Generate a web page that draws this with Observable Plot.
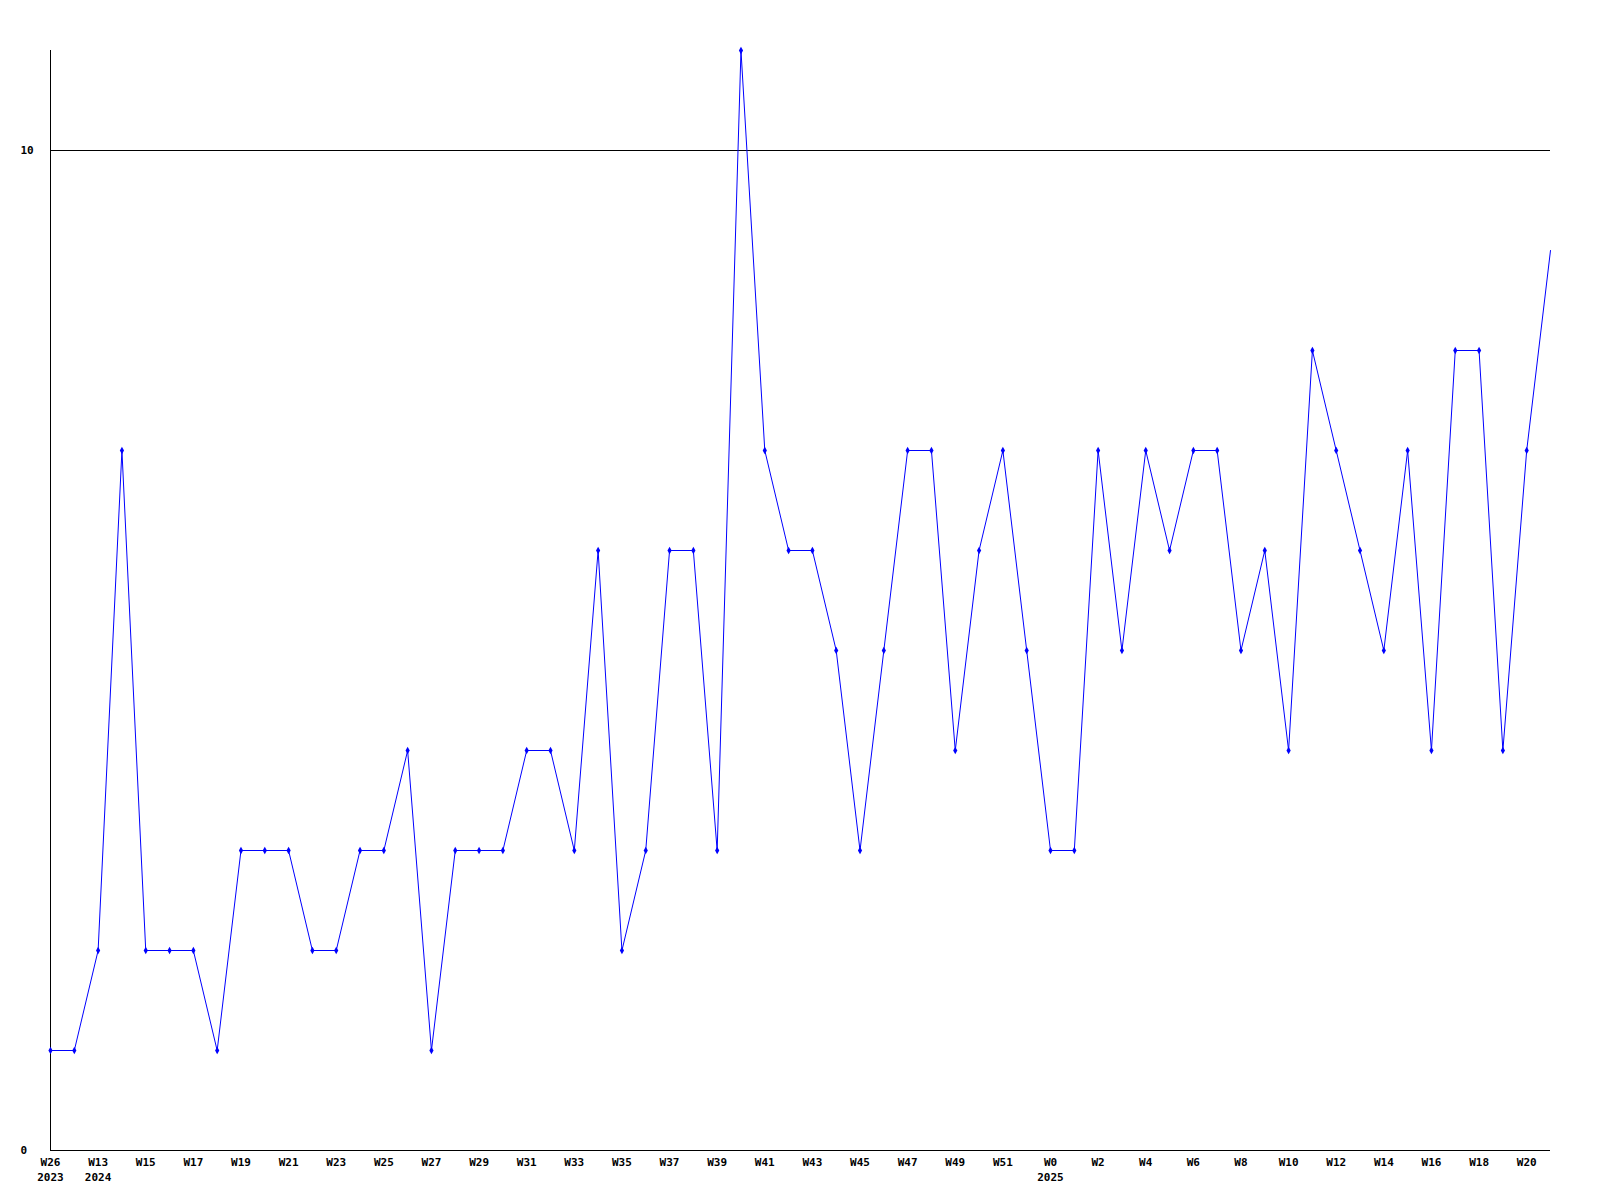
<!DOCTYPE html>
<html>
<head>
<meta charset="utf-8">
<script src="https://cdn.jsdelivr.net/npm/d3@7"></script>
<script src="https://cdn.jsdelivr.net/npm/@observablehq/plot@0.6"></script>
<style>
  html, body { margin: 0; padding: 0; background: #fff; }
  #chart svg { display: block; }
</style>
</head>
<body>
<div id="chart"></div>
<script>
const weeks = ["W26","W12","W13","W14","W15","W16","W17","W18","W19","W20","W21","W22","W23","W24","W25","W26","W27","W28","W29","W30","W31","W32","W33","W34","W35","W36","W37","W38","W39","W40","W41","W42","W43","W44","W45","W46","W47","W48","W49","W50","W51","W52","W0","W1","W2","W3","W4","W5","W6","W7","W8","W9","W10","W11","W12","W13","W14","W15","W16","W17","W18","W19","W20","W21"];
const values = [1,1,2,7,2,2,2,1,3,3,3,2,2,3,3,4,1,3,3,3,4,4,3,6,2,3,6,6,3,11,7,6,6,5,3,5,7,7,4,6,7,5,3,3,7,5,7,6,7,7,5,6,4,8,7,6,5,7,4,8,8,4,7,9];
const yearLabels = {0: "2023", 2: "2024", 42: "2025"};
const yTicks = [0, 10];
const gridValues = [10];

const data = values.map((v, i) => ({i, week: weeks[i], value: v}));
const xTicks = data.filter(d => d.i % 2 === 0).map(d => d.i);

const chart = Plot.plot({
  width: 1600,
  height: 1200,
  marginLeft: 50,
  marginRight: 50,
  marginTop: 50,
  marginBottom: 50,
  style: {fontFamily: "'DejaVu Sans Mono', monospace", fontSize: "11px", fontWeight: "bold", color: "#000", background: "#fff"},
  x: {type: "linear", domain: [0, values.length - 1]},
  y: {domain: [0, 11]},
  marks: [
    Plot.ruleY(gridValues, {stroke: "#000", strokeWidth: 1, strokeOpacity: 1}),
    Plot.ruleY([0], {stroke: "#000", strokeWidth: 1}),
    Plot.ruleX([0], {stroke: "#000", strokeWidth: 1}),
    Plot.axisY({ticks: yTicks, tickSize: 0, tickPadding: 30, textAnchor: "start", label: null, fontWeight: "bold"}),
    Plot.axisX({ticks: xTicks, tickSize: 0, tickPadding: 4, label: null, lineHeight: 1.42,
      tickFormat: i => weeks[i] + (yearLabels[i] ? "\n" + yearLabels[i] : ""), fontWeight: "bold"}),
    Plot.line(data, {x: "i", y: "value", stroke: "#0000ff", strokeWidth: 1}),
    Plot.dot(data.slice(0, data.length - 1), {x: "i", y: "value", symbol: "diamond", r: 2.2, fill: "#0000ff", stroke: "none"})
  ]
});
document.getElementById("chart").appendChild(chart);
</script>
</body>
</html>
